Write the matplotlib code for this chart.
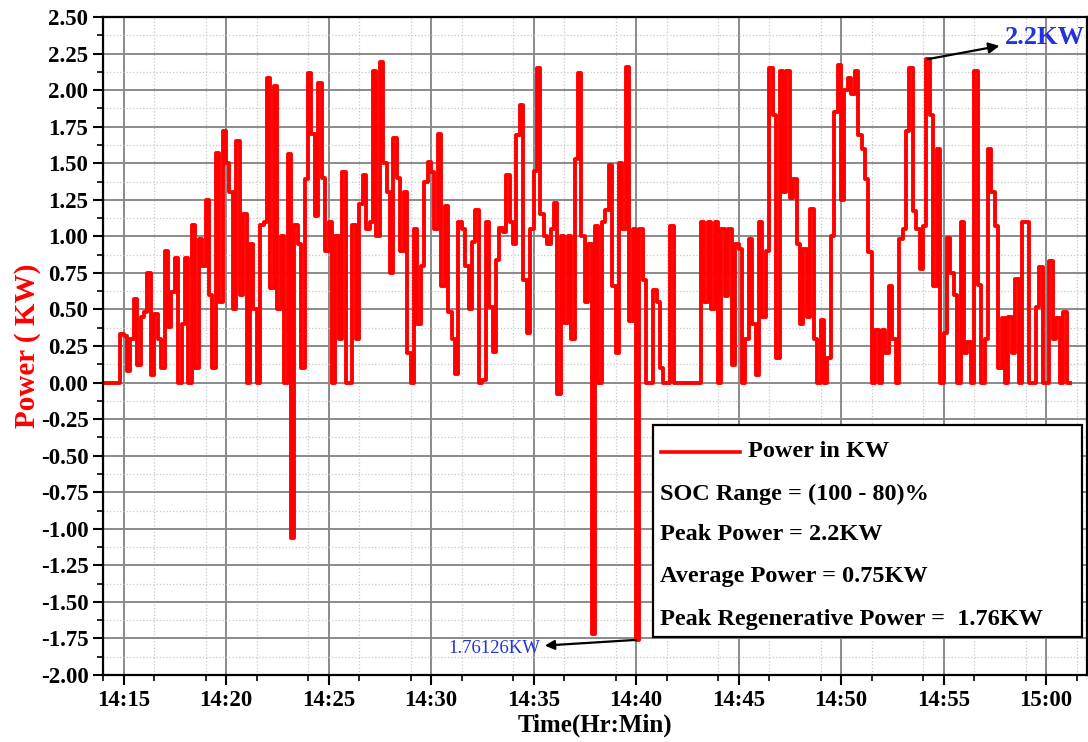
import numpy as np
import matplotlib
matplotlib.use("Agg")
import matplotlib.pyplot as plt
from matplotlib.lines import Line2D
from matplotlib.patches import Rectangle
from matplotlib.ticker import MultipleLocator

plt.rcParams['font.family'] = ['Liberation Serif', 'DejaVu Serif']
plt.rcParams['font.weight'] = 'bold'
plt.rcParams['axes.unicode_minus'] = False

# Power samples (kW), one every 10 s, starting 14:14:00
p_1414 = [0, 0, 0, 0, 0, 0.33,
          0.32, 0.08, 0.3, 0.57, 0.12, 0.45,
          0.48, 0.75, 0.05, 0.47, 0.3, 0.1,
          0.9, 0.38, 0.62, 0.85, 0.0, 0.4,
          0.85, 0.0, 1.08, 0.1, 0.98, 0.8]
p_1419 = [1.25, 0.6, 0.1, 1.57, 0.55, 1.72,
          1.5, 1.3, 0.5, 1.65, 0.6, 1.15,
          0.0, 0.95, 0.5, 0.0, 1.08, 1.1,
          2.08, 0.65, 2.03, 0.5, 1.0, 0.0,
          1.56, -1.06, 1.08, 0.95, 0.1, 1.39]
p_1424 = [2.12, 1.7, 1.14, 2.05, 1.4, 0.9,
          1.1, 0.0, 1.0, 0.3, 1.44, 0.0,
          0.0, 1.08, 0.3, 1.22, 1.42, 1.05,
          1.1, 2.13, 1.0, 2.19, 1.5, 1.3,
          0.75, 1.67, 1.4, 0.9, 1.3, 0.2]
p_1429 = [0.0, 1.05, 0.4, 0.8, 1.37, 1.51,
          1.44, 1.05, 1.7, 0.66, 1.21, 0.48,
          0.3, 0.06, 1.1, 1.05, 0.8, 0.5,
          0.96, 1.18, 0.0, 0.02, 1.1, 0.52,
          0.21, 0.84, 1.06, 1.03, 1.42, 1.1]
p_1434 = [0.95, 1.69, 1.9, 0.7, 0.34, 1.05,
          1.45, 2.15, 1.15, 1.0, 0.95, 1.05,
          1.23, -0.08, 1.0, 0.41, 1.0, 0.3,
          1.53, 2.12, 1.0, 0.55, 0.95, -1.72,
          1.07, 0.0, 1.1, 1.18, 1.49, 0.66]
p_1439 = [0.2, 1.5, 1.05, 2.16, 0.42, 1.05,
          -1.76, 1.05, 0.7, 0.0, 0.0, 0.63,
          0.55, 0.1, 0.0, 0.0, 1.07, 0.0,
          0, 0, 0, 0, 0, 0,
          0.0, 1.1, 0.55, 1.1, 0.5, 1.1]
p_1444 = [0.0, 1.05, 0.59, 1.05, 0.12, 0.95,
          0.91, 0.0, 0.3, 0.98, 0.4, 0.05,
          1.1, 0.45, 0.9, 2.15, 1.83, 0.17,
          2.13, 1.3, 2.13, 1.26, 1.39, 0.95,
          0.4, 0.91, 0.45, 1.19, 0.3, 0.0]
p_1449 = [0.43, 0.0, 0.17, 1.0, 1.85, 2.17,
          1.25, 2.0, 2.08, 1.97, 2.13, 1.69,
          1.6, 1.39, 0.89, 0.0, 0.36, 0.0,
          0.36, 0.2, 0.66, 0.3, 0.0, 0.98,
          1.05, 1.72, 2.15, 1.17, 1.05, 0.78]
p_1454 = [1.07, 2.21, 1.83, 0.66, 1.6, 0.0,
          0.34, 0.99, 0.75, 0.6, 0.0, 1.1,
          0.2, 0.28, 0.0, 2.13, 0.67, 0.0,
          0.3, 1.6, 1.3, 1.07, 0.1, 0.44,
          0.0, 0.45, 0.2, 0.71, 0.0, 1.1]
p_1459 = [1.1, 0.0, 0.0, 0.52, 0.79, 0.0,
          0.0, 0.83, 0.3, 0.44, 0.0, 0.48,
          0.0, 0.0]

x_tick_labels = ["14:15", "14:20", "14:25", "14:30", "14:35",
                 "14:40", "14:45", "14:50", "14:55", "15:00"]

power = np.array(p_1414 + p_1419 + p_1424 + p_1429 + p_1434 +
                 p_1439 + p_1444 + p_1449 + p_1454 + p_1459)
t = np.arange(len(power)) / 6.0   # minutes after 14:14


def to_min(lbl):
    h, m = lbl.split(":")
    return (int(h) - 14) * 60 + int(m) - 14


fig = plt.figure(figsize=(10.88, 7.42), dpi=100)
ax = fig.add_axes([103 / 1088, 67 / 742, 984 / 1088, 658 / 742])

ax.step(t, power, where='post', color='#ff0000', lw=2.8)

ax.set_xlim(0, 48)
ax.set_ylim(-2.0, 2.5)
ax.set_xticks([to_min(l) for l in x_tick_labels])
ax.set_xticklabels(x_tick_labels)
ax.xaxis.set_minor_locator(MultipleLocator(2.5))
ax.set_yticks(np.arange(-2.0, 2.51, 0.25))
ax.set_yticklabels(["%.2f" % v for v in np.arange(-2.0, 2.51, 0.25)])
ax.yaxis.set_minor_locator(MultipleLocator(0.125))

ax.tick_params(which='major', direction='out', length=7, width=1.5, labelsize=16.5)
ax.tick_params(which='minor', direction='out', length=4, width=1.2)
ax.grid(which='major', color='#8a8a8a', lw=1.4)
ax.grid(which='minor', color='#c8c8c8', lw=0.9, ls=':')
ax.set_axisbelow(True)
for s in ax.spines.values():
    s.set_linewidth(1.6)

ax.set_ylabel("Power ( KW)", color='#ff0000', fontsize=21, fontweight='bold', labelpad=0)
ax.set_xlabel("Time(Hr:Min)", fontsize=18, fontweight='bold', labelpad=2)

# annotations
ipk = np.argmax(power)
ax.annotate("2.2KW", xy=(t[ipk], power[ipk]), xytext=(44.0, 2.36),
            color='#2233dd', fontsize=19, va='center', ha='left',
            arrowprops=dict(arrowstyle='<|-', color='black', lw=1.6,
                            shrinkA=2, shrinkB=1, mutation_scale=16))
ineg = np.argmin(power)
ax.annotate("1.76126KW", xy=(t[ineg], power[ineg]), xytext=(21.35, -1.82),
            color='#2233dd', fontsize=13.5, fontweight='normal', va='center', ha='right',
            arrowprops=dict(arrowstyle='<|-', color='black', lw=1.6,
                            shrinkA=1, shrinkB=0, mutation_scale=14))

# legend box
ax.add_patch(Rectangle((0.559, 0.058), 0.436, 0.322, transform=ax.transAxes,
                       facecolor='white', edgecolor='black', lw=1.6, zorder=5))
ax.add_line(Line2D([0.567, 0.647], [0.339, 0.339], transform=ax.transAxes,
                   color='#ff0000', lw=2.6, zorder=6))
ax.text(0.6555, 0.339, "Power in KW", transform=ax.transAxes,
        va='center', ha='left', fontsize=17.5, zorder=6)
info = ["SOC Range = (100 - 80)%", "Peak Power = 2.2KW",
        "Average Power = 0.75KW", "Peak Regenerative Power =  1.76KW"]
for txt, yy in zip(info, [0.275, 0.213, 0.149, 0.085]):
    ax.text(0.566, yy, txt, transform=ax.transAxes, va='center', ha='left',
            fontsize=17.5, zorder=6)

fig.savefig("out.png", dpi=100)
